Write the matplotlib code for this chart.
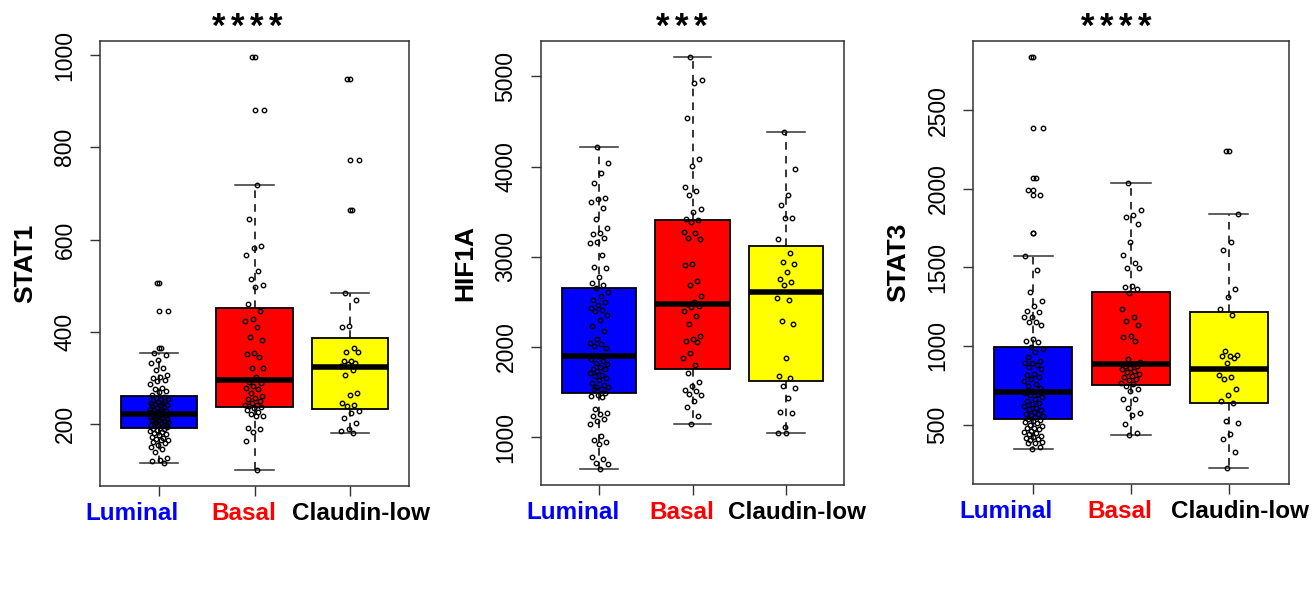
"""Boxplots with jittered points of STAT1 / HIF1A / STAT3 by subtype."""

import matplotlib
matplotlib.use("Agg")
import matplotlib.pyplot as plt
import numpy as np

plt.rcParams["font.family"] = ["Liberation Sans", "DejaVu Sans"]

subtypes = ["Luminal", "Basal", "Claudin-low"]
subtype_colors = ["#0000FF", "#FF0000", "#FFFF00"]
label_colors = ["#0000FF", "#FF0000", "#000000"]

genes = ["STAT1", "HIF1A", "STAT3"]
stars = ["****", "***", "****"]

# expression values (one value per sample)
stat1_luminal = [505, 446, 365, 354, 349, 338, 333, 322, 317, 306, 302, 299, 295, 293, 286,
                 277, 276, 272, 270, 262, 259, 257, 255, 254, 252, 250, 248, 246, 245, 243,
                 241, 240, 238, 236, 235, 233, 232, 230, 229, 227, 226, 224, 223, 221, 219,
                 218, 217, 215, 214, 213, 211, 210, 209, 208, 207, 205, 204, 203, 201, 200,
                 199, 198, 196, 195, 193, 192, 189, 188, 186, 185, 183, 180, 179, 176, 172,
                 170, 168, 165, 164, 161, 158, 155, 150, 146, 139, 127, 122, 119, 115]
stat1_basal = [995, 882, 719, 645, 587, 581, 566, 531, 514, 502, 497, 460, 446, 427, 424,
               410, 389, 381, 354, 351, 345, 322, 322, 301, 290, 288, 282, 277, 275, 268,
               260, 257, 254, 249, 245, 242, 240, 238, 236, 235, 231, 226, 222, 217, 217,
               192, 188, 183, 162, 101]
stat1_claudin = [948, 773, 664, 484, 469, 413, 410, 365, 357, 356, 336, 336, 333, 329, 326,
                 316, 307, 268, 262, 246, 242, 238, 228, 224, 213, 203, 188, 185, 180]

hif1a_luminal = [4219, 4038, 3934, 3816, 3657, 3638, 3609, 3538, 3424, 3320, 3268, 3253,
                 3209, 3165, 3150, 3017, 2887, 2876, 2773, 2713, 2684, 2658, 2613, 2565,
                 2517, 2502, 2462, 2436, 2410, 2399, 2358, 2295, 2232, 2173, 2084, 2047,
                 2029, 2010, 1992, 1899, 1870, 1850, 1825, 1807, 1780, 1760, 1751, 1733,
                 1714, 1690, 1680, 1659, 1633, 1603, 1580, 1560, 1555, 1537, 1529, 1492,
                 1470, 1455, 1444, 1307, 1270, 1252, 1240, 1204, 1178, 1148, 1011, 974,
                 945, 926, 778, 759, 711, 704, 652]
hif1a_basal = [5211, 4960, 4926, 4538, 4090, 4008, 3779, 3735, 3690, 3535, 3498, 3424,
               3409, 3387, 3279, 3268, 3209, 3194, 2924, 2909, 2728, 2684, 2565, 2502,
               2473, 2454, 2440, 2399, 2343, 2250, 2121, 2084, 2066, 2055, 1929, 1873,
               1799, 1707, 1614, 1566, 1522, 1507, 1477, 1463, 1400, 1333, 1240, 1148]
hif1a_claudin = [4382, 3979, 3690, 3572, 3435, 3431, 3194, 3046, 2946, 2924, 2835, 2758,
                 2721, 2684, 2547, 2517, 2288, 2258, 1873, 1677, 1659, 1566, 1548, 1437,
                 1281, 1266, 1118, 1044]

stat3_luminal = [2835, 2388, 2069, 1991, 1957, 1715, 1569, 1484, 1344, 1283, 1255, 1223,
                 1217, 1187, 1181, 1155, 1153, 1132, 1043, 1032, 1022, 990, 979, 960, 930,
                 905, 894, 890, 880, 863, 850, 820, 814, 803, 788, 774, 760, 746, 735, 714,
                 700, 695, 687, 678, 661, 650, 640, 629, 615, 608, 600, 590, 581, 570, 566,
                 560, 555, 545, 535, 530, 525, 517, 510, 500, 490, 481, 475, 470, 460, 450,
                 443, 440, 428, 420, 417, 410, 400, 390, 385, 380, 354, 347]
stat3_basal = [2035, 1864, 1834, 1817, 1775, 1664, 1577, 1526, 1497, 1493, 1382, 1372,
               1363, 1334, 1234, 1181, 1160, 1132, 1060, 1054, 1032, 916, 899, 888, 873,
               870, 860, 852, 840, 831, 820, 810, 803, 788, 780, 767, 760, 746, 725, 714,
               665, 661, 608, 576, 559, 502, 449, 434]
stat3_claudin = [2241, 1836, 1664, 1611, 1361, 1308, 1234, 1198, 969, 941, 937, 933, 920,
                 894, 814, 803, 788, 725, 687, 651, 640, 523, 508, 438, 411, 328, 226]

# box statistics: (q1, median, q3, lower whisker, upper whisker)
stat1_boxes = [(191, 222, 260, 115, 354), (236, 295, 451, 101, 719), (233, 323, 386, 180, 484)]
hif1a_boxes = [(1493, 1899, 2658, 652, 4219), (1752, 2473, 3409, 1148, 5212),
               (1618, 2606, 3117, 1045, 4383)]
stat3_boxes = [(538, 704, 992, 347, 1569), (750, 882, 1344, 434, 2035), (640, 854, 1216, 226, 1836)]

yticks = [[200, 400, 600, 800, 1000], [1000, 2000, 3000, 4000, 5000],
          [500, 1000, 1500, 2000, 2500]]

panel_values = [
    [stat1_luminal, stat1_basal, stat1_claudin],
    [hif1a_luminal, hif1a_basal, hif1a_claudin],
    [stat3_luminal, stat3_basal, stat3_claudin],
]
panel_boxes = [stat1_boxes, hif1a_boxes, stat3_boxes]

# axes rectangles in pixels (left, top, right, bottom)
W, H = 1314, 607
frames = [(100, 41, 409, 486), (541, 41, 844, 485), (973, 41, 1289, 484)]
star_centers = [247, 682, 1116]
label_shift = [-0.28, -0.11, 0.12]


def draw_panel(ax, gene, groups, boxes, ticks):
    stats = []
    for vals, (q1, med, q3, lo, hi) in zip(groups, boxes):
        vals = np.asarray(vals, dtype=float)
        stats.append(dict(q1=q1, med=med, q3=q3, whislo=lo, whishi=hi,
                          fliers=vals[(vals < lo) | (vals > hi)]))

    bp = ax.bxp(stats, positions=[1, 2, 3], widths=0.8, capwidths=0.4,
                patch_artist=True, showfliers=True,
                boxprops=dict(edgecolor="black", linewidth=1.3),
                medianprops=dict(color="black", linewidth=4, solid_capstyle="butt"),
                whiskerprops=dict(color="black", linewidth=1.1, linestyle=(0, (5, 4))),
                capprops=dict(color="#333333", linewidth=1.1),
                flierprops=dict(marker="o", markersize=3.2, markerfacecolor="none",
                                markeredgecolor="black", markeredgewidth=1.0))
    for patch, c in zip(bp["boxes"], subtype_colors):
        patch.set_facecolor(c)

    # jittered strip of all samples
    for i, vals in enumerate(groups):
        n = len(vals)
        offs = ((np.arange(n) * 0.618034 + 0.37) % 1.0 - 0.5) * 0.2
        ax.plot(i + 1 + offs, vals, linestyle="none", marker="o", markersize=3.2,
                markerfacecolor="none", markeredgecolor="black",
                markeredgewidth=1.0, zorder=5)

    allv = np.concatenate([np.asarray(v, float) for v in groups])
    lo, hi = allv.min(), allv.max()
    pad = 0.04 * (hi - lo)
    ax.set_ylim(lo - pad, hi + pad)
    ax.set_xlim(0.38, 3.62)

    ax.set_yticks(ticks)
    ax.set_yticklabels([str(t) for t in ticks], rotation=90, va="center", fontsize=16.5)
    ax.set_xticks([1, 2, 3])
    ax.set_xticklabels([])
    ax.tick_params(axis="both", length=7, width=1, color="#333333", pad=10)
    for s in ax.spines.values():
        s.set_linewidth(1.1)
        s.set_color("#333333")

    ax.set_ylabel(gene, fontsize=19, fontweight="bold", labelpad=12)

    trans = ax.get_xaxis_transform()
    for i, (name, col) in enumerate(zip(subtypes, label_colors)):
        ax.text(i + 1 + label_shift[i], -0.062, name, transform=trans, ha="center",
                va="center", fontsize=17.5, fontweight="bold", color=col)


fig = plt.figure(figsize=(W / 100, H / 100), dpi=100)
for gene, groups, boxes, star, ticks, (l, t, r, b), sc in zip(
        genes, panel_values, panel_boxes, stars, yticks, frames, star_centers):
    ax = fig.add_axes([l / W, 1 - b / H, (r - l) / W, (b - t) / H])
    draw_panel(ax, gene, groups, boxes, ticks)
    # significance stars, one glyph at a time so they keep R's loose spacing
    k = len(star)
    for j, ch in enumerate(star):
        x = sc + (j - (k - 1) / 2) * 19
        fig.text(x / W, 1 - 37 / H, ch, ha="center", va="baseline",
                 fontsize=25, fontweight="bold")

fig.savefig("out.png", dpi=100)
